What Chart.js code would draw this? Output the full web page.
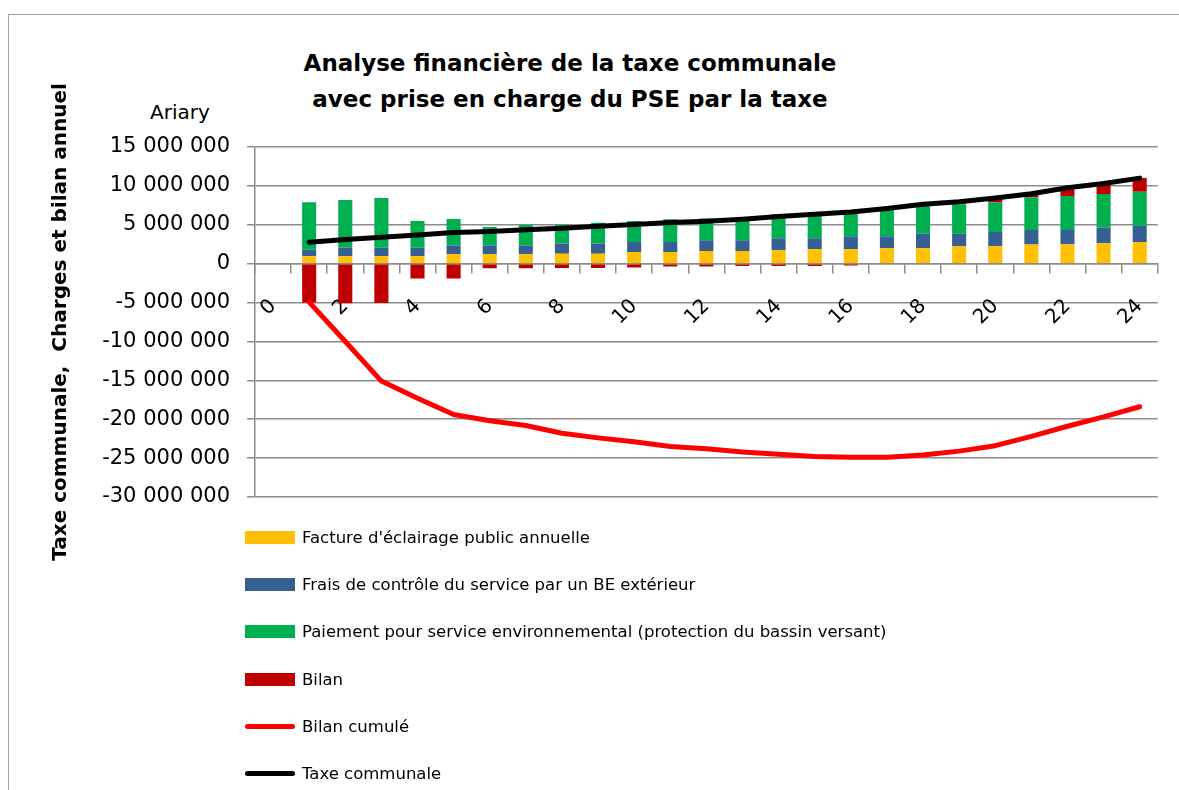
<!DOCTYPE html>
<html lang="fr">
<head>
<meta charset="utf-8">
<title>Analyse financière de la taxe communale</title>
<script src="https://cdn.jsdelivr.net/npm/chart.js@4.4.1/dist/chart.umd.min.js"></script>
<style>
	html, body { margin: 0; padding: 0; background: #fff; }
	body { width: 1179px; height: 790px; position: relative; overflow: hidden; font-family: 'DejaVu Sans', sans-serif; color: #000; }
	.frame { position: absolute; left: 8px; top: 14px; width: 1300px; height: 900px; border: 1.5px solid #a3a3a3; }
	.title { position: absolute; left: 0; top: 45px; width: 1140px; text-align: center; font-weight: bold; font-size: 23px; line-height: 36px; }
	.unit { position: absolute; left: 140px; top: 100px; width: 80px; text-align: center; font-size: 20px; line-height: 24px; }
	canvas { position: absolute; left: 0; top: 0; }
	.legend { position: absolute; left: 245px; top: 514px; margin: 0; padding: 0; list-style: none; font-size: 16.5px; }
	.legend li { height: 47.2px; display: flex; align-items: center; white-space: nowrap; }
	.legend .swatch { width: 50px; height: 13px; margin-right: 7px; }
	.legend .swatch.line { height: 5px; border-radius: 3px; }
</style>
</head>
<body>
<div class="frame"></div>
<div class="title">Analyse financière de la taxe communale<br>avec prise en charge du PSE par la taxe</div>
<div class="unit">Ariary</div>
<canvas id="chart" width="1179" height="790"></canvas>
<ul class="legend"></ul>
<script>
const d = document,
	$canvas = d.getElementById('chart'),
	$legend = d.querySelector('.legend'),
	gridColor = '#8c8c8c'

// années (axe des x)
const years = ['0', '1', '2', '3', '4', '5', '6', '7', '8', '9', '10', '11', '12', '13', '14', '15', '16', '17', '18', '19', '20', '21', '22', '23', '24']

// valeurs en Ariary
const facture = [null, 940000, 940000, 940000, 940000, 1200000, 1200000, 1200000, 1290000, 1290000, 1500000, 1500000, 1630000, 1630000, 1720000, 1850000, 1850000, 1970000, 1970000, 2230000, 2230000, 2450000, 2490000, 2620000, 2790000]
const frais = [null, 860000, 1120000, 1120000, 1120000, 1120000, 1120000, 1120000, 1290000, 1290000, 1290000, 1290000, 1370000, 1370000, 1540000, 1410000, 1670000, 1550000, 1890000, 1630000, 1850000, 1880000, 1840000, 2020000, 2100000]
const paiement = [null, 6100000, 6140000, 6390000, 3440000, 3430000, 2380000, 2680000, 2420000, 2670000, 2710000, 2910000, 2800000, 3000000, 3090000, 3390000, 3380000, 3430000, 3640000, 3790000, 3770000, 4170000, 4370000, 4310000, 4360000]
const bilan = [null, -5000000, -5100000, -5050000, -1900000, -1900000, -600000, -600000, -550000, -550000, -500000, -350000, -350000, -300000, -300000, -300000, -250000, 50000, 100000, 100000, 430000, 430000, 860000, 1200000, 1750000]
const bilanCumule = [null, -4950000, -10000000, -15100000, -17300000, -19400000, -20200000, -20800000, -21800000, -22400000, -22900000, -23500000, -23800000, -24200000, -24500000, -24800000, -24900000, -24900000, -24600000, -24100000, -23400000, -22200000, -20900000, -19700000, -18400000]
const taxe = [null, 2750000, 3100000, 3400000, 3700000, 4000000, 4150000, 4350000, 4550000, 4800000, 5050000, 5300000, 5450000, 5700000, 6050000, 6350000, 6650000, 7100000, 7650000, 7950000, 8450000, 9000000, 9750000, 10300000, 11000000]

const formatAriary = (value) => {
	const digits = Math.abs(value).toString().replace(/\B(?=(\d{3})+(?!\d))/g, ' ')
	return value < 0 ? `-${digits}` : digits
}

const barDataset = (label, data, color) => ({
	type: 'bar', label, data,
	backgroundColor: color, borderWidth: 0,
	barPercentage: 0.39, categoryPercentage: 1, order: 2
})
const lineDataset = (label, data, color, stack) => ({
	type: 'line', label, data, stack,
	borderColor: color, backgroundColor: color, borderWidth: 5,
	pointRadius: 0, tension: 0, borderCapStyle: 'round', borderJoinStyle: 'round', order: 1
})

Chart.defaults.font.family = "'DejaVu Sans', sans-serif"
Chart.defaults.color = '#000'

const chart = new Chart($canvas, {
	type: 'bar',
	data: {
		labels: years,
		datasets: [
			barDataset("Facture d'éclairage public annuelle", facture, '#ffc000'),
			barDataset('Frais de contrôle du service par un BE extérieur', frais, '#376092'),
			barDataset('Paiement pour service environnemental (protection du bassin versant)', paiement, '#00b050'),
			barDataset('Bilan', bilan, '#c00000'),
			lineDataset('Bilan cumulé', bilanCumule, '#ff0000', 'cumul'),
			lineDataset('Taxe communale', taxe, '#000000', 'taxe')
		]
	},
	options: {
		responsive: false,
		animation: false,
		events: [],
		layout: { padding: { top: 147, left: 49, right: 17, bottom: 293 } },
		plugins: { legend: { display: false }, tooltip: { enabled: false } },
		scales: {
			x: {
				stacked: true,
				position: { y: 0 },
				grid: { offset: true, drawOnChartArea: false, color: gridColor, lineWidth: 1.5, tickLength: 9 },
				border: { color: gridColor, width: 1.5 },
				ticks: {
					autoSkip: false, minRotation: 45, maxRotation: 45, padding: 22,
					font: { size: 20 },
					callback: (value, index) => index % 2 === 0 ? years[index] : ''
				}
			},
			y: {
				stacked: true,
				min: -30000000,
				max: 15000000,
				ticks: { stepSize: 5000000, padding: 17, font: { size: 21 }, callback: formatAriary },
				grid: { color: gridColor, lineWidth: 1.5, tickLength: 8 },
				border: { color: gridColor, width: 1.5 },
				title: { display: true, text: 'Taxe communale,  Charges et bilan annuel', font: { size: 20, weight: 'bold' }, padding: 0 },
				afterFit: (scale) => { scale.width = 206 }
			}
		}
	}
})

chart.data.datasets.forEach((ds) => {
	const $item = d.createElement('li'),
		$swatch = d.createElement('span'),
		$text = d.createElement('span')
	$swatch.className = ds.type === 'line' ? 'swatch line' : 'swatch'
	$swatch.style.background = ds.type === 'line' ? ds.borderColor : ds.backgroundColor
	$text.textContent = ds.label
	$item.append($swatch, $text)
	$legend.append($item)
})
</script>
</body>
</html>
